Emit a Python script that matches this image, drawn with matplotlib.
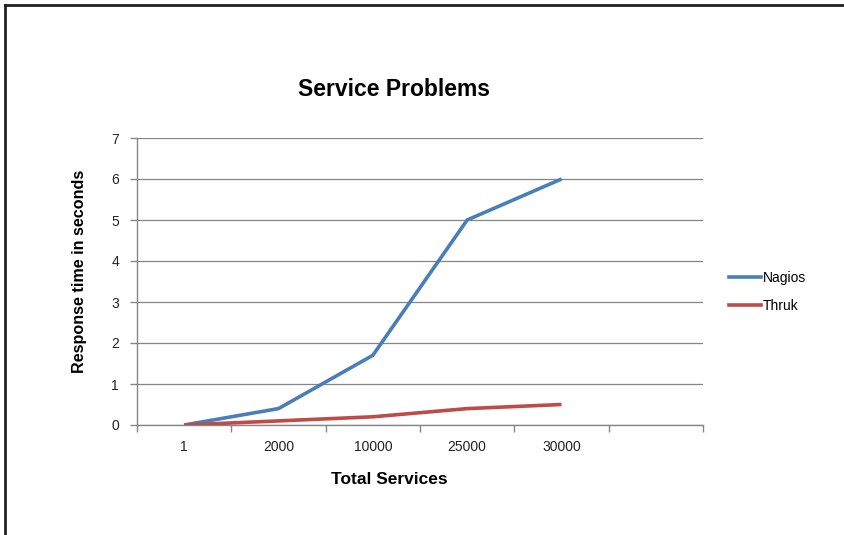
import matplotlib
matplotlib.use("Agg")
import matplotlib.pyplot as plt
from matplotlib.lines import Line2D

categories = ["1", "2000", "10000", "25000", "30000"]
nagios = [0, 0.4, 1.7, 5, 6]
thruk = [0, 0.1, 0.2, 0.4, 0.5]
yticks = [0, 1, 2, 3, 4, 5, 6, 7]

plt.rcParams['font.family'] = ['Liberation Sans', 'DejaVu Sans']

W, H = 845, 535
fig = plt.figure(figsize=(W / 100, H / 100), dpi=100)
ax = fig.add_axes([137 / W, 1 - 425 / H, (703 - 137) / W, (425 - 138) / H])

x = list(range(len(categories)))
ax.plot(x, nagios, color="#4a7ebb", lw=2.6, solid_capstyle="butt", label="Nagios", zorder=3)
ax.plot(x, thruk, color="#be4b48", lw=2.6, solid_capstyle="butt", label="Thruk", zorder=3)

ax.set_xlim(-0.5, len(categories) + 0.5)
ax.set_ylim(0, 7)
ax.set_yticks(yticks)
ax.set_yticklabels([str(v) for v in yticks], fontsize=10, color="#222222")
ax.set_xticks(x)
ax.set_xticklabels(categories, fontsize=10, color="#222222")
ax.set_xticks([i - 0.5 for i in range(len(categories) + 2)], minor=True)
ax.tick_params(axis="x", which="major", length=0, pad=11)
ax.tick_params(axis="x", which="minor", length=5, color="#868686", width=1)
ax.tick_params(axis="y", length=5, color="#868686", width=1, pad=8)

ax.grid(axis="y", color="#868686", lw=0.9)
ax.set_axisbelow(True)
for s in ["top", "right"]:
    ax.spines[s].set_visible(False)
for s in ["left", "bottom"]:
    ax.spines[s].set_color("#868686")
    ax.spines[s].set_linewidth(1)

fig.text(394 / W, 1 - 90 / H, "Service Problems", ha="center", va="center",
         fontsize=16.5, fontweight="bold")
fig.text(80 / W, 1 - 271 / H, "Response time in seconds", ha="center", va="center",
         rotation=90, fontsize=11.6, fontweight="bold")
fig.text(389 / W, 1 - 480 / H, "Total Services", ha="center", va="center",
         fontsize=12.5, fontweight="bold")

handles = [Line2D([], [], color="#4a7ebb", lw=2.6), Line2D([], [], color="#be4b48", lw=2.6)]
fig.legend(handles, ["Nagios", "Thruk"], loc="center left",
           bbox_to_anchor=(717 / W, 1 - 292 / H), frameon=False, fontsize=10,
           handlelength=2.3, handletextpad=0.1, labelspacing=1.05)

# outer frame (top and left visible)
fig.add_artist(Line2D([5 / W, 5 / W], [0, 1 - 5 / H], transform=fig.transFigure,
                      color="#222222", lw=2))
fig.add_artist(Line2D([5 / W, 1], [1 - 5 / H, 1 - 5 / H], transform=fig.transFigure,
                      color="#222222", lw=2))

fig.savefig("out.png", dpi=100)
